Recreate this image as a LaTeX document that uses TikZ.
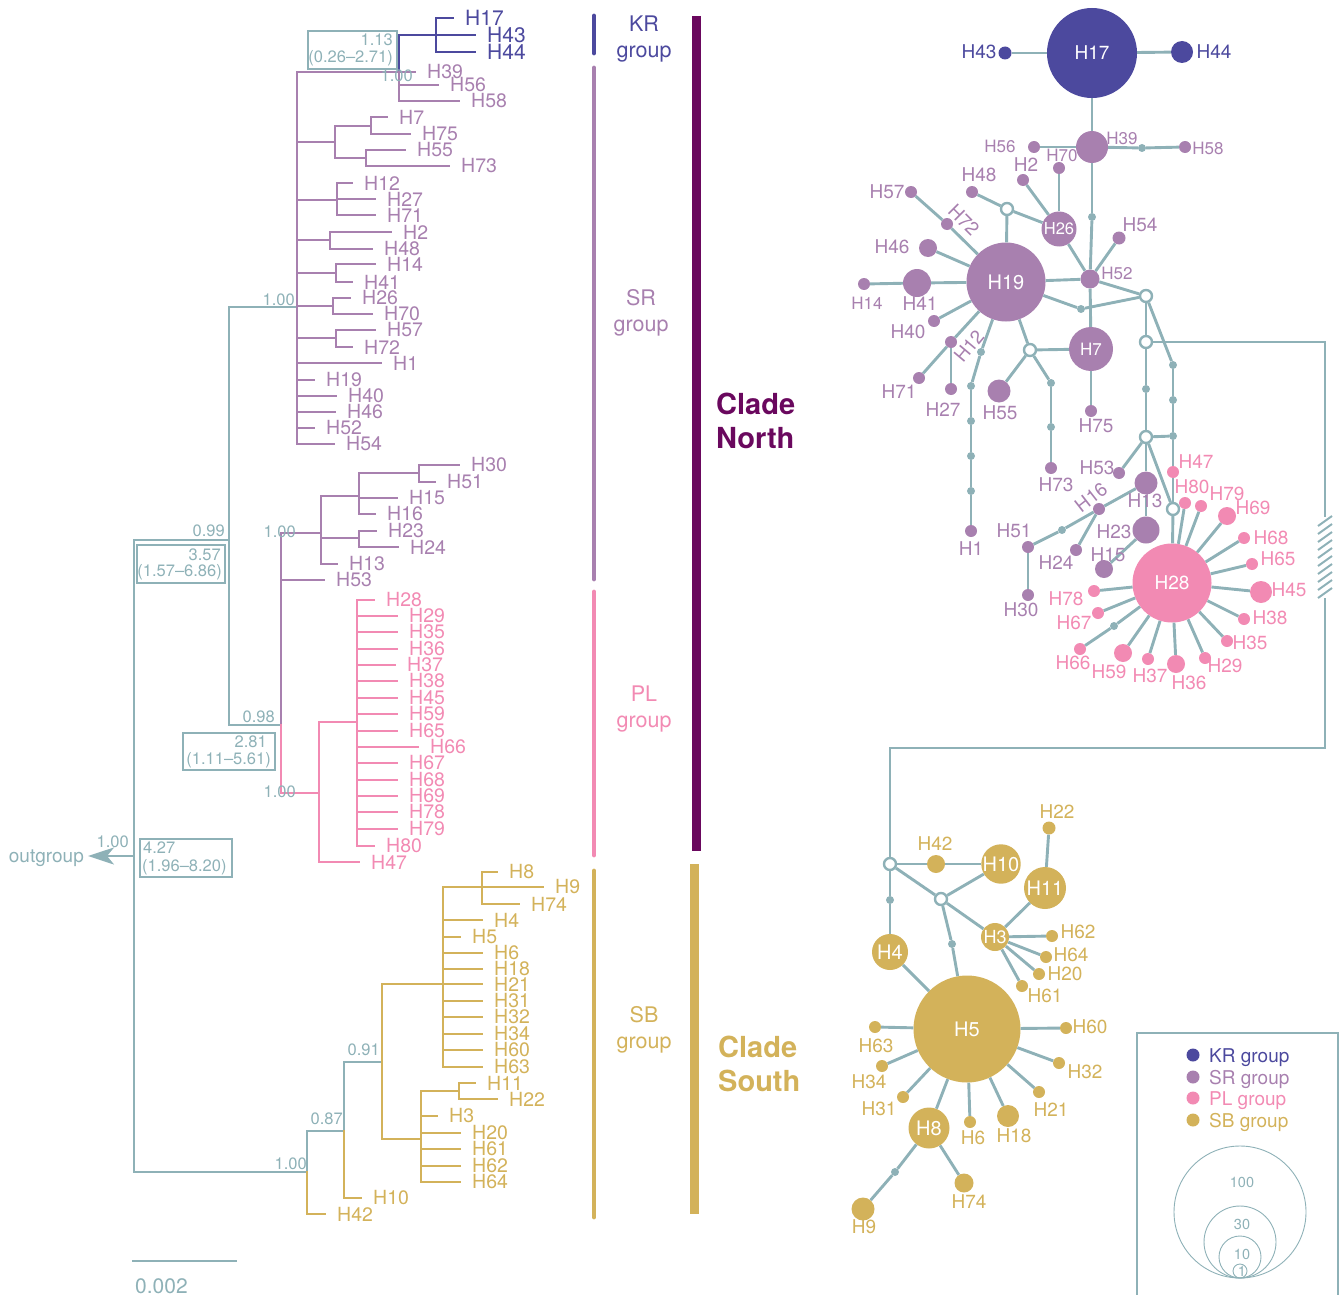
\documentclass[tikz,border=0pt]{standalone}
\usepackage{fontspec}
\setmainfont{TeX Gyre Heros}
\usetikzlibrary{arrows.meta}

\definecolor{lnc}{RGB}{142,177,183}
\definecolor{krc}{RGB}{76,73,158}
\definecolor{src}{RGB}{168,128,175}
\definecolor{plc}{RGB}{242,138,179}
\definecolor{sbc}{RGB}{211,178,90}
\definecolor{nthc}{RGB}{106,8,94}
\newcommand{\fsz}[1]{\fontsize{#1}{#1}\selectfont}

\tikzset{
  br/.style={line width=2.6pt, line cap=rect},
  bbr/.style={br, lnc}, krbr/.style={br, krc}, srbr/.style={br, src},
  plbr/.style={br, plc}, sbbr/.style={br, sbc},
  tip/.style={anchor=west, inner sep=0pt, font=\fsz{19.5}},
  sup/.style={anchor=base east, inner sep=0pt, text=lnc, font=\fsz{16.5}},
  bxt/.style={sup, font=\fsz{16.5}},
  bxl/.style={draw=lnc, line width=1.2pt},
  gbar/.style={line width=4.8pt, line cap=round},
  cbar/.style={line width=9pt},
  grp/.style={align=center, inner sep=0pt, font=\fontsize{21.5}{26}\selectfont},
  clade/.style={align=left, anchor=west, inner sep=0pt, font=\fontsize{29}{34}\selectfont\bfseries},
  edge/.style={lnc, line width=2.9pt},
  hap/.style={circle, inner sep=0pt, minimum size=#1pt, text=white, font=\fsz{19}},
  krh/.style={hap=#1, fill=krc}, srh/.style={hap=#1, fill=src},
  plh/.style={hap=#1, fill=plc}, sbh/.style={hap=#1, fill=sbc},
  mut/.style={circle, inner sep=0pt, minimum size=8pt, fill=lnc},
  hyp/.style={circle, inner sep=0pt, minimum size=12pt, draw=lnc, line width=2.4pt, fill=white},
  nl/.style={inner sep=0pt, font=\fsz{19}},
  nls/.style={nl, font=\fsz{17}},
}

\begin{document}
\begin{tikzpicture}[x=1pt, y=-1pt]
  \useasboundingbox (0,0) rectangle (1341,1295);

  % ---- tree: backbone
  \draw[bbr] (229,540) -- (134,540) -- (134,1172) -- (307,1172) -- (307,1131) -- (344,1131) -- (344,1062) -- (382,1062);
  \draw[bbr] (297,307) -- (229,307) -- (229,725) -- (281,725);
  \draw[bbr,-{Stealth[length=26pt,width=17pt,inset=7pt]}] (134,856) -- (88,856);
  \node[anchor=base east, inner sep=0pt, text=lnc, font=\fsz{19}] (og) at (84,862) {outgroup};

  % KR
  \draw[krbr] (399,72) -- (399,35) -- (436,35);
  \draw[krbr] (436,18) -- (436,52);
  \foreach \n/\s/\e/\y in {H17/436/453/18, H43/436/475/35, H44/436/475/52}{
    \draw[krbr] (\s,\y) -- (\e,\y);
    \node[tip, text=krc, font=\fsz{21}] (t\n) at (\e+12,\y) {\n}; }

  % SR
  \draw[srbr] (297,444) -- (297,72) -- (399,72) -- (399,101);
  \draw[srbr] (297,142) -- (335,142) (335,126) -- (335,158) (335,126) -- (371,126) (371,117) -- (371,134)
              (335,158) -- (366,158) (366,150) -- (366,166);
  \draw[srbr] (297,200) -- (337,200) (337,183) -- (337,215);
  \draw[srbr] (297,240) -- (330,240) (330,232) -- (330,249);
  \draw[srbr] (297,273) -- (336,273) (336,264) -- (336,282);
  \draw[srbr] (297,306) -- (333,306) (333,298) -- (333,314);
  \draw[srbr] (297,338) -- (336,338) (336,330) -- (336,347);
  \draw[srbr] (281,725) -- (281,533) -- (321,533);
  \draw[srbr] (321,496) -- (321,564) (321,496) -- (359,496) (359,473) -- (359,514) (359,473) -- (419,473)
              (419,465) -- (419,482) (321,538) -- (359,538) (359,531) -- (359,547);
  \foreach \n/\s/\e/\y in {H39/399/415/72, H56/399/438/85, H58/399/459/101, H7/371/387/117, H75/371/410/134,
      H55/366/405/150, H73/366/449/166, H12/337/352/183, H27/337/375/199, H71/337/375/215, H2/330/391/232,
      H48/330/372/249, H14/336/375/264, H41/336/352/282, H26/333/350/298, H70/333/372/314, H57/336/375/330,
      H72/336/352/347, H1/297/381/363, H19/297/314/380, H40/297/336/396, H46/297/335/412, H52/297/314/428,
      H54/297/334/444, H30/419/459/465, H51/419/435/482, H15/359/397/498, H16/359/375/514, H23/359/376/531,
      H24/359/398/547, H13/321/337/564, H53/281/324/580}{
    \draw[srbr] (\s,\y) -- (\e,\y);
    \node[tip, text=src] (t\n) at (\e+12,\y) {\n}; }

  % PL
  \draw[plbr] (281,725) -- (281,793) -- (319,793);
  \draw[plbr] (319,722) -- (319,862) (319,722) -- (357,722) (357,600) -- (357,846);
  \foreach \n/\s/\e/\y in {H28/357/374/600, H29/357/397/616, H35/357/397/632, H36/357/397/649, H37/357/395/665,
      H38/357/397/681, H45/357/397/698, H59/357/397/714, H65/357/397/731, H66/357/418/747, H67/357/397/763,
      H68/357/397/780, H69/357/397/796, H78/357/397/812, H79/357/397/829, H80/357/374/846, H47/319/359/862}{
    \draw[plbr] (\s,\y) -- (\e,\y);
    \node[tip, text=plc] (t\n) at (\e+12,\y) {\n}; }

  % SB
  \draw[sbbr] (307,1172) -- (307,1214);
  \draw[sbbr] (344,1131) -- (344,1198);
  \draw[sbbr] (382,984) -- (382,1139) (382,984) -- (443,984) (443,887) -- (443,1067) (443,887) -- (482,887)
              (482,872) -- (482,904) (382,1139) -- (421,1139) (421,1091) -- (421,1182) (421,1091) -- (459,1091)
              (459,1083) -- (459,1099);
  \foreach \n/\s/\e/\y in {H8/482/497/872, H9/482/543/887, H74/482/519/904, H4/443/482/920, H5/443/460/937,
      H6/443/482/953, H18/443/482/969, H21/443/482/984, H31/443/482/1001, H32/443/482/1017, H34/443/482/1034,
      H60/443/482/1050, H63/443/482/1067, H11/459/475/1083, H22/459/497/1099, H3/421/437/1116, H20/421/460/1133,
      H61/421/460/1149, H62/421/460/1166, H64/421/460/1182, H10/344/361/1198, H42/307/325/1214}{
    \draw[sbbr] (\s,\y) -- (\e,\y);
    \node[tip, text=sbc] (t\n) at (\e+12,\y) {\n}; }

  % supports and age boxes
  \node[sup] (p1) at (413,82) {1.00};
  \node[sup] (p2) at (295,305) {1.00};
  \node[sup] (p3) at (225,536) {0.99};
  \node[sup] (p4) at (296,537) {1.00};
  \node[sup] (p5) at (275,722) {0.98};
  \node[sup] (p6) at (296,797) {1.00};
  \node[sup] (p7) at (129,847) {1.00};
  \node[sup] (p8) at (307,1169) {1.00};
  \node[sup] (p9) at (380,1055) {0.91};
  \node[sup] (p10) at (343,1124) {0.87};
  \draw[bxl] (308,31) rectangle (397,69);
  \node[bxt] (a1) at (393,46) {1.13};
  \node[bxt] (a1r) at (393,63) {(0.26--2.71)};
  \draw[bxl] (137,545) rectangle (225,583);
  \node[bxt] (a2) at (221,560) {3.57};
  \node[bxt] (a2r) at (222,576) {(1.57--6.86)};
  \draw[bxl] (183,733) rectangle (275,770);
  \node[bxt] (a3) at (267,747) {2.81};
  \node[bxt] (a3r) at (271,764) {(1.11--5.61)};
  \draw[bxl] (140,839) rectangle (232,877);
  \node[bxt, anchor=base west] (a4) at (143,853) {4.27};
  \node[bxt, anchor=base west] (a4r) at (142,871) {(1.96--8.20)};

  % scale bar
  \draw[bbr] (133,1261) -- (236,1261);
  \node[anchor=base west, inner sep=0pt, text=lnc, font=\fsz{21}] (scl) at (135,1293) {0.002};

  % ---- group and clade bars
  \draw[gbar,krc] (594,16) -- (594,53);
  \draw[gbar,src] (594,68) -- (594,579);
  \draw[gbar,plc] (594,592) -- (594,855);
  \draw[gbar,sbc] (594,871) -- (594,1217);
  \draw[cbar,nthc] (696,16) -- (696,851);
  \draw[cbar,sbc] (694,864) -- (694,1214);
  \node[grp, text=krc] (gKR) at (644,39) {KR\\group};
  \node[grp, text=src] (gSR) at (641,313) {SR\\group};
  \node[grp, text=plc] (gPL) at (644,709) {PL\\group};
  \node[grp, text=sbc] (gSB) at (644,1030) {SB\\group};
  \node[clade, text=nthc] (cN) at (716,421) {Clade\\North};
  \node[clade, text=sbc] (cS) at (718,1064) {Clade\\South};

  % ---- haplotype network
  \node[krh=90] (H17) at (1092,53) {H17};
  \node[krh=13] (H43) at (1005,53) {};
  \node[krh=22] (H44) at (1182,52) {};
  \node[srh=79, font=\fsz{20}] (H19) at (1006,282) {H19};
  \node[srh=35, font=\fsz{16.5}] (H26) at (1059,229) {H26};
  \node[srh=44, font=\fsz{17}] (H7) at (1091,349) {H7};
  \foreach \n/\x/\y/\d in {H39/1092/147/32, H58/1185/147/12, H56/1034/147/12, H70/1059/168/12, H2/1023/180/12,
      H48/972/192/12, H57/911/192/12, H72/947/224/12, H46/928/248/18, H41/917/283/28, H14/864/284/12,
      H52/1090/279/19, H54/1119/238/13, H40/934/321/12, H12/951/342/12, H71/919/378/12, H27/951/389/12,
      H1/971/531/12, H55/999/391/23, H75/1091/411/12, H73/1051/468/12, H53/1119/473/12, H13/1146/483/23,
      H23/1146/530/27, H16/1099/509/12, H51/1028/547/12, H30/1028/595/12, H24/1076/550/12, H15/1104/569/18}
    \node[srh=\d] (\n) at (\x,\y) {};
  \node[plh=79] (H28) at (1172,583) {H28};
  \foreach \n/\x/\y/\d in {H47/1173/472/12, H80/1185/503/12, H79/1201/506/12, H69/1227/516/18, H68/1244/538/12,
      H65/1252/564/12, H45/1261/592/22, H38/1244/619/12, H35/1227/641/12, H29/1205/658/12, H36/1176/664/18,
      H37/1148/659/12, H59/1123/653/18, H66/1080/649/12, H67/1098/613/12, H78/1094/591/12}
    \node[plh=\d] (\n) at (\x,\y) {};
  \node[sbh=107, font=\fsz{20}] (H5) at (967,1029) {H5};
  \node[sbh=39, font=\fsz{20}] (H10) at (1001,864) {H10};
  \node[sbh=42, font=\fsz{20}] (H11) at (1045,888) {H11};
  \node[sbh=36, font=\fsz{20}] (H4) at (890,952) {H4};
  \node[sbh=28, font=\fsz{18}] (H3) at (995,937) {H3};
  \node[sbh=41, font=\fsz{20}] (H8) at (929,1128) {H8};
  \foreach \n/\x/\y/\d in {H42/936/864/18, H22/1049/828/13, H62/1052/936/12, H64/1046/957/12, H20/1039/974/12,
      H61/1022/986/12, H63/875/1027/12, H60/1066/1028/12, H34/882/1066/12, H31/903/1097/12, H6/970/1122/12,
      H18/1008/1116/22, H21/1039/1092/12, H32/1059/1063/12, H74/964/1183/19, H9/863/1209/23}
    \node[sbh=\d] (\n) at (\x,\y) {};

  % mutations and missing haplotypes
  \foreach \n/\x/\y in {m1/1142/148, m2/1092/217, m3/981/352, m4/971/386, m5/971/421, m6/971/456, m7/971/491,
      m8/1051/383, m9/1051/427, m10/1081/309, m11/1173/365, m12/1173/400, m13/1173/436, m14/1146/389,
      m15/1062/530, m16/1114/626, m17/952/944, m18/890/900, m19/895/1172}
    \node[mut] (\n) at (\x,\y) {};
  \foreach \n/\x/\y in {e1/1007/209, e2/1030/350, e3/1146/296, e4/1146/342, e5/1146/437, e6/1173/509,
      e7/890/864, e8/941/899}
    \node[hyp] (\n) at (\x,\y) {};

  \foreach \a/\b in {H17/H43, H17/H44, H17/H39, H39/H56, H39/m1, m1/H58, H39/m2, m2/H52, H52/H54, H52/H19,
      H52/H26, H52/e3, H52/H7, H26/H70, H26/H2, H26/e1, e1/H48, e1/H19, H19/H72, H72/H57, H19/H46, H19/H41,
      H41/H14, H19/H40, H19/H12, H12/H71, H12/H27, H19/m3, m3/m4, m4/m5, m5/m6, m6/m7, m7/H1, H19/e2, e2/H55,
      e2/H7, e2/m8, m8/m9, m9/H73, H7/H75, H19/m10, m10/e3, e3/e4, e3/m11, m11/m12, m12/m13, m13/H47, H47/e6,
      e4/m14, m14/e5, e5/m13, e5/H53, e5/H13, e5/e6, H13/H23, H13/H16, H16/m15, m15/H51, H51/H30, H16/H24,
      H23/H15, e6/H28}
    \draw[edge] (\a) -- (\b);
  \foreach \b in {H80, H79, H69, H68, H65, H45, H38, H35, H29, H36, H37, H59, m16, H67, H78}
    \draw[edge] (H28) -- (\b);
  \draw[edge] (m16) -- (H66);
  \foreach \a/\b in {e7/H42, H42/H10, e7/e8, e8/H10, e8/H3, e8/m17, m17/H5, e7/m18, m18/H4, H4/H5, H3/H11,
      H11/H22, H3/H62, H3/H64, H3/H20, H3/H61, H5/H63, H5/H60, H5/H34, H5/H31, H5/H8, H5/H6, H5/H18, H5/H21,
      H5/H32, H8/m19, m19/H9, H8/H74}
    \draw[edge] (\a) -- (\b);

  % long link between the two clades, with break
  \coordinate (c1) at (1325,342);
  \coordinate (bk1) at (1325,517);
  \coordinate (bk2) at (1325,598);
  \coordinate (c2) at (1325,748);
  \coordinate (c3) at (890,748);
  \draw[edge] (e4) -- (c1) -- (bk1);
  \draw[edge] (bk2) -- (c2) -- (c3) -- (e7);
  \foreach \y in {521,529,...,593}
    \draw[edge, line width=2pt] (1318,\y+5) -- (1332,\y-5);

  % network labels
  \foreach \n/\x/\y in {H43/979/52, H44/1214/52}
    \node[nl, text=krc] (l\n) at (\x,\y) {\n};
  \foreach \n/\x/\y in {H2/1026/165, H48/979/175, H57/887/192, H46/892/247, H41/920/304, H40/908/332,
      H71/899/392, H27/943/410, H55/1000/413, H75/1096/426, H73/1056/485, H1/971/549, H53/1097/468,
      H13/1145/501, H23/1114/532, H15/1108/555, H51/1014/531, H24/1056/563, H30/1021/610, H54/1140/225}
    \node[nl, text=src] (l\n) at (\x,\y) {\n};
  \foreach \n/\x/\y in {H39/1122/138, H58/1208/148, H56/1000/146, H70/1062/155, H14/867/303, H52/1117/273}
    \node[nls, text=src] (l\n) at (\x,\y) {\n};
  \node[nl, text=src, rotate=-45] (lH72) at (964,220) {H72};
  \node[nl, text=src, rotate=50] (lH12) at (969,346) {H12};
  \node[nl, text=src, rotate=38] (lH16) at (1091,497) {H16};
  \foreach \n/\x/\y in {H47/1196/462, H80/1192/487, H79/1227/494, H69/1253/508, H68/1271/538, H65/1278/559,
      H45/1289/590, H38/1270/618, H35/1250/643, H29/1225/666, H36/1189/683, H37/1150/676, H59/1109/672,
      H66/1073/663, H67/1074/623, H78/1066/599}
    \node[nl, text=plc] (l\n) at (\x,\y) {\n};
  \foreach \n/\x/\y in {H42/935/844, H22/1057/812, H62/1078/932, H64/1071/955, H20/1065/974, H61/1045/996,
      H60/1090/1027, H63/876/1046, H34/869/1082, H31/879/1109, H6/973/1138, H18/1014/1136, H21/1051/1110,
      H32/1085/1072, H74/969/1202, H9/864/1227}
    \node[nl, text=sbc] (l\n) at (\x,\y) {\n};

  % ---- legend
  \draw[lnc, line width=1.2pt] (1137,1295) -- (1137,1033) -- (1338,1033) -- (1338,1295);
  \foreach \c/\t/\y in {krc/KR/1055, src/SR/1077, plc/PL/1098, sbc/SB/1120}{
    \node[circle, inner sep=0pt, minimum size=13pt, fill=\c] (k\t) at (1193,\y) {};
    \node[anchor=base west, inner sep=0pt, text=\c, font=\fsz{19}] (lg\t) at (1209,\y+7) {\t\ group}; }
  \foreach \r in {66,36,21,7}
    \draw[lnc, line width=0.9pt] (1240,1278-\r) circle (\r pt);
  \foreach \t/\y in {100/1182, 30/1224, 10/1254, 1/1271}
    \node[inner sep=0pt, text=lnc, font=\fsz{14.5}] (sz\t) at (1242,\y) {\t};
\end{tikzpicture}
\end{document}
